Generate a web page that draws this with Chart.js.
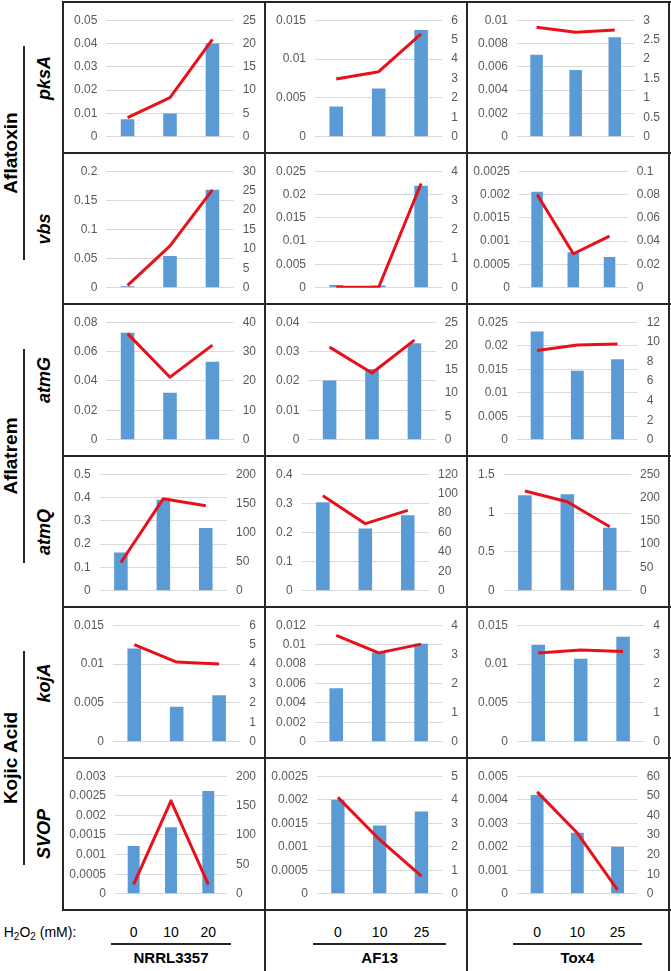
<!DOCTYPE html>
<html>
<head>
<meta charset="utf-8">
<script src="https://cdn.jsdelivr.net/npm/chart.js@4.4.1/dist/chart.umd.min.js"></script>
<style>
  body { margin: 0; background: #fff; }
  #fig { position: relative; width: 671px; height: 971px; overflow: hidden; font-family: 'Liberation Sans', Arial, sans-serif; color: #000; }
  #fig canvas { position: absolute; }
  .ln { position: absolute; background: #262626; z-index: 2; }
  .rot { position: absolute; white-space: nowrap; font-weight: bold; transform: translate(-50%, -50%) rotate(-90deg); }
  .grp { font-size: 19px; }
  .gene { font-size: 18px; font-style: italic; }
  .txt { position: absolute; white-space: nowrap; transform: translate(-50%, -50%); }
</style>
</head>
<body>
<div id="fig"></div>
<script>
const strains = ['NRRL3357', 'AF13', 'Tox4'];
const doses = [['0', '10', '20'], ['0', '10', '25'], ['0', '10', '25']];
const genes = ['pksA', 'vbs', 'atmG', 'atmQ', 'kojA', 'SVOP'];
const groups = ['Aflatoxin', 'Aflatrem', 'Kojic Acid'];

// bars = left axis, line = right axis; one inner list per strain (NRRL3357, AF13, Tox4)
const pksABars = [[0.0075, 0.0100, 0.0400], [0.0039, 0.0062, 0.01375], [0.00704, 0.00572, 0.00854]];
const pksALine = [[4.1, 8.4, 20.9], [2.97, 3.35, 5.3], [2.82, 2.69, 2.75]];
const vbsBars = [[0.0028, 0.0544, 0.168], [0.0006, 0.0005, 0.0219], [0.00206, 0.00076, 0.00066]];
const vbsLine = [[0.6, 10.8, 25.2], [0.02, 0.02, 3.58], [0.08, 0.0292, 0.0444]];
const atmGBars = [[0.0729, 0.032, 0.0531], [0.0202, 0.0241, 0.0328], [0.023, 0.0147, 0.0171]];
const atmGLine = [[36.1, 21.3, 32.2], [19.7, 14.2, 21.2], [9.12, 9.68, 9.78]];
const atmQBars = [[0.164, 0.39, 0.269], [0.3036, 0.2139, 0.259], [1.229, 1.242, 0.8125]];
const atmQLine = [[48.5, 158, 146], [97.7, 69.1, 82.8], [213.9, 191, 137.5]];
const kojABars = [[0.012, 0.0045, 0.006], [0.0055, 0.0092, 0.0101], [0.0125, 0.0107, 0.0135]];
const kojALine = [[5.0, 4.1, 4.0], [3.65, 3.05, 3.35], [3.05, 3.15, 3.1]];
const svopBars = [[0.00122, 0.0017, 0.00262], [0.002, 0.00145, 0.00175], [0.0042, 0.0026, 0.002]];
const svopLine = [[16, 158, 16], [4.1, 2.3, 0.75], [52, 31, 2]];

// axis [max, step] per strain
const pksALeft = [[0.05, 0.01], [0.015, 0.005], [0.01, 0.002]];
const pksARight = [[25, 5], [6, 1], [3, 0.5]];
const vbsLeft = [[0.2, 0.05], [0.025, 0.005], [0.0025, 0.0005]];
const vbsRight = [[30, 5], [4, 1], [0.1, 0.02]];
const atmGLeft = [[0.08, 0.02], [0.04, 0.01], [0.025, 0.005]];
const atmGRight = [[40, 10], [25, 5], [12, 2]];
const atmQLeft = [[0.5, 0.1], [0.4, 0.1], [1.5, 0.5]];
const atmQRight = [[200, 50], [120, 20], [250, 50]];
const kojALeft = [[0.015, 0.005], [0.012, 0.002], [0.015, 0.005]];
const kojARight = [[6, 1], [4, 1], [4, 1]];
const svopLeft = [[0.003, 0.0005], [0.0025, 0.0005], [0.005, 0.001]];
const svopRight = [[200, 50], [5, 1], [60, 10]];

const rows = [
  [pksABars, pksALine, pksALeft, pksARight],
  [vbsBars, vbsLine, vbsLeft, vbsRight],
  [atmGBars, atmGLine, atmGLeft, atmGRight],
  [atmQBars, atmQLine, atmQLeft, atmQRight],
  [kojABars, kojALine, kojALeft, kojARight],
  [svopBars, svopLine, svopLeft, svopRight]
];

Chart.defaults.font.family = "'Liberation Sans', Arial, sans-serif";

const fig = document.getElementById('fig');
const colX = [63, 265, 467, 669];
const rowY = [2, 153, 304, 456, 607, 758, 910];

function addLine(x, y, w, h) {
  const d = document.createElement('div');
  d.className = 'ln';
  d.style.left = x + 'px'; d.style.top = y + 'px';
  d.style.width = w + 'px'; d.style.height = h + 'px';
  fig.appendChild(d);
}
function addText(cls, text, x, y, extra) {
  const d = document.createElement('div');
  d.className = cls;
  d.innerHTML = text;
  d.style.left = x + 'px'; d.style.top = y + 'px';
  if (extra) Object.assign(d.style, extra);
  fig.appendChild(d);
  return d;
}

const fmt = (v) => String(parseFloat(Number(v).toFixed(6)));

function makePanel(r, c) {
  const [bars, line, left, right] = rows[r];
  const cv = document.createElement('canvas');
  cv.width = colX[c + 1] - colX[c] - 2;
  cv.height = rowY[r + 1] - rowY[r] - 2;
  cv.style.left = (colX[c] + 2) + 'px';
  cv.style.top = (rowY[r] + 2) + 'px';
  fig.appendChild(cv);

  const tickFont = { size: 12 };
  return new Chart(cv, {
    type: 'bar',
    data: {
      labels: doses[c],
      datasets: [
        {
          type: 'line', data: line[c], yAxisID: 'y1',
          borderColor: '#e8111a', borderWidth: 3, pointRadius: 0,
          tension: 0, borderJoinStyle: 'round', order: 1
        },
        {
          type: 'bar', data: bars[c], yAxisID: 'y',
          backgroundColor: '#5b9bd5', barPercentage: 0.32, categoryPercentage: 1, order: 2
        }
      ]
    },
    options: {
      responsive: false,
      animation: false,
      devicePixelRatio: 1,
      layout: { padding: { top: 13, bottom: 16, left: 0, right: 0 } },
      plugins: { legend: { display: false }, tooltip: { enabled: false } },
      scales: {
        x: { display: false },
        y: {
          position: 'left', min: 0, max: left[c][0],
          grid: { color: '#d9d9d9', drawTicks: false },
          border: { display: false },
          ticks: { stepSize: left[c][1], padding: 9, color: '#595959', font: tickFont, callback: fmt }
        },
        y1: {
          position: 'right', min: 0, max: right[c][0],
          grid: { display: false, drawTicks: false },
          border: { display: false },
          ticks: { stepSize: right[c][1], padding: 9, color: '#595959', font: tickFont, callback: fmt }
        }
      }
    }
  });
}

const bottomCharts = [];
for (let r = 0; r < rows.length; r++) {
  for (let c = 0; c < strains.length; c++) {
    const ch = makePanel(r, c);
    if (r === rows.length - 1) bottomCharts.push(ch);
  }
}

// table lines
for (let i = 0; i < rowY.length; i++) addLine(colX[0], rowY[i] - 1, colX[3] - colX[0] + 2, 2);
addLine(colX[0] - 1, rowY[0] - 1, 2, rowY[6] - rowY[0] + 2);
addLine(colX[1] - 1, rowY[0] - 1, 2, 971);
addLine(colX[2] - 1, rowY[0] - 1, 2, 971);
addLine(colX[3] - 1, rowY[0] - 1, 2, 971);

// group + gene labels
for (let g = 0; g < groups.length; g++) {
  const cy = rowY[g * 2 + 1];
  addText('rot grp', groups[g], 11, cy);
  addLine(23, cy - 107, 2, 214);
}
for (let r = 0; r < genes.length; r++) {
  addText('rot gene', genes[r], 44, (rowY[r] + rowY[r + 1]) / 2);
}

// bottom labels: dose ticks placed from each bottom chart's x scale
addText('txt', 'H<sub style="font-size:10px">2</sub>O<sub style="font-size:10px">2</sub> (mM):', 40, 933, { fontSize: '14px' });
bottomCharts.forEach((ch, c) => {
  const ox = colX[c] + 2;
  doses[c].forEach((d, i) => {
    addText('txt', d, ox + ch.scales.x.getPixelForValue(i), 932, { fontSize: '14px' });
  });
  const a = ch.chartArea;
  const x0 = ox + a.left;
  const x1 = ox + a.right;
  addLine(x0 - 4, 943, x1 - x0 + 8, 2);
  addText('txt', strains[c], (x0 + x1) / 2, 957, { fontSize: '15px', fontWeight: 'bold' });
});
</script>
</body>
</html>
